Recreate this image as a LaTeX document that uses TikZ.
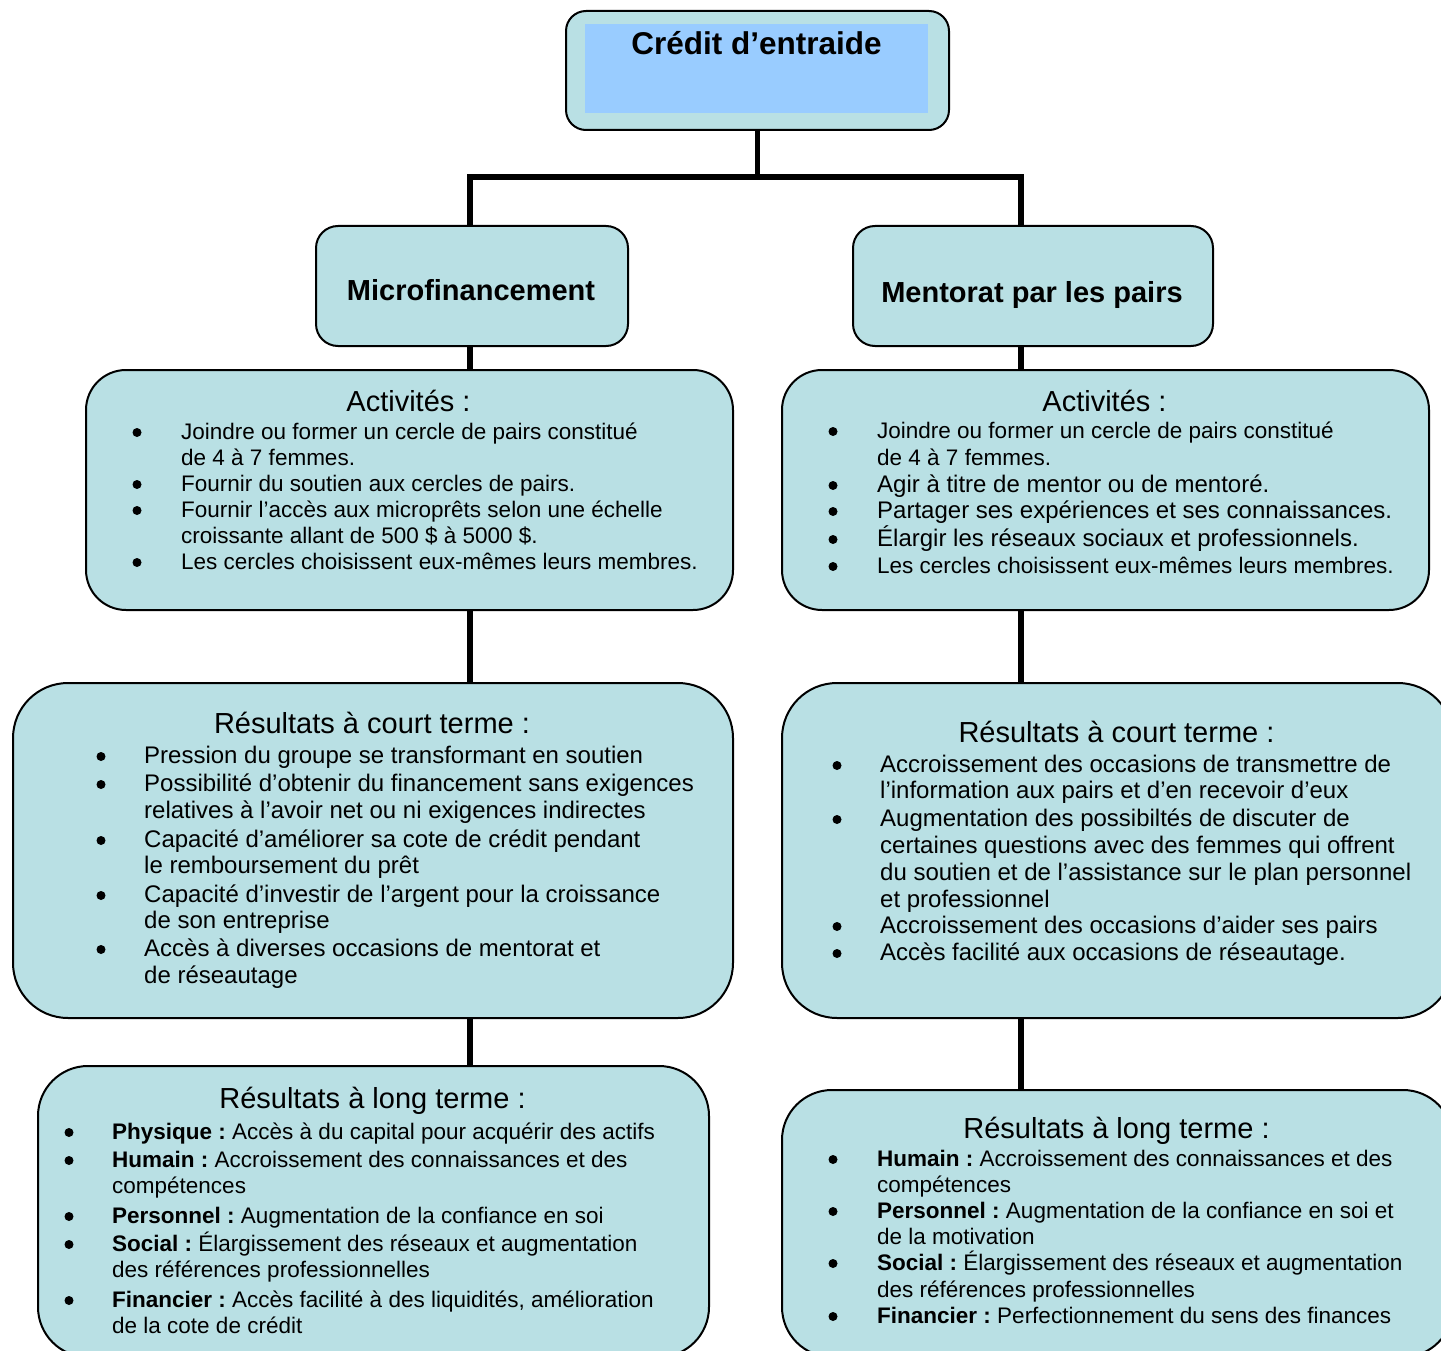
\documentclass[tikz,border=0pt]{standalone}
\usepackage{fontspec}
\setmainfont{Liberation Sans}
\definecolor{boxfill}{RGB}{185,224,228}
\definecolor{innerblue}{RGB}{153,204,255}

\begin{document}
\frenchspacing
\begin{tikzpicture}[x=1pt,y=-1pt,
  box/.style={draw=black, line width=2pt, fill=boxfill, anchor=north west, inner sep=0pt},
  link/.style={line width=5.5pt, draw=black, line join=miter},
  bodyA/.style={font=\fontsize{22.5}{26}\selectfont, anchor=base west, inner sep=0pt},
  bodyB/.style={font=\fontsize{24}{28}\selectfont, anchor=base west, inner sep=0pt},
  dot/.style={circle, fill=black, inner sep=0pt, minimum size=9pt, yshift=6.5pt},
  ttl/.style={font=\fontsize{29}{34}\selectfont, anchor=base, inner sep=0pt},
  head/.style={font=\fontsize{29}{34}\selectfont\bfseries, anchor=base, inner sep=0pt}
]
\useasboundingbox (0,0) rectangle (1441,1351);
\clip (0,0) rectangle (1441,1351);
\fill[white] (0,0) rectangle (1441,1351);

% boxes
\node[box, minimum width=383pt, minimum height=119pt, rounded corners=20pt] (top) at (565,10) {};
\node[fill=innerblue, anchor=north west, inner sep=0pt, minimum width=343pt, minimum height=89pt] (topinner) at (585,24) {};
\node[font=\fontsize{31.5}{36}\selectfont\bfseries, anchor=base, inner sep=0pt] (toptext) at (756.5,55) {Crédit d’entraide};

\node[box, minimum width=312pt, minimum height=120pt, rounded corners=22pt] (micro) at (315,225) {};
\node[head] (microtext) at (471,301) {Microfinancement};
\node[box, minimum width=360pt, minimum height=120pt, rounded corners=22pt] (mentor) at (852,225) {};
\node[head] (mentortext) at (1032,302) {Mentorat par les pairs};

\node[box, minimum width=647pt, minimum height=240pt, rounded corners=40pt] (act1) at (85,369) {};
\node[box, minimum width=647pt, minimum height=240pt, rounded corners=40pt] (act2) at (781,369) {};
\node[box, minimum width=720pt, minimum height=335pt, rounded corners=55pt] (short1) at (12,682) {};
\node[box, minimum width=671pt, minimum height=335pt, rounded corners=55pt] (short2) at (781,682) {};
\node[box, minimum width=671pt, minimum height=291pt, rounded corners=50pt] (long1) at (37,1065) {};
\node[box, minimum width=671pt, minimum height=267pt, rounded corners=50pt] (long2) at (781,1089) {};

% connectors
\coordinate (busL) at (470,177);
\coordinate (busR) at (1021,177);
\draw[link] (top.south) -- (top.south |- busL);
\draw[link] (micro.north -| busL) -- (busL) -- (busR) -- (mentor.north -| busR);
\draw[link] (micro.south -| busL) -- (act1.north -| busL);
\draw[link] (act1.south -| busL) -- (short1.north -| busL);
\draw[link] (short1.south -| busL) -- (long1.north -| busL);
\draw[link] (mentor.south -| busR) -- (act2.north -| busR);
\draw[link] (act2.south -| busR) -- (short2.north -| busR);
\draw[link] (short2.south -| busR) -- (long2.north -| busR);

% Activités, left
\node[ttl] (act1title) at (408.5,411) {Activités :};
\foreach \y [count=\i] in {439,491,517,569}
  \node[dot] (act1b\i) at (137,\y) {};
\foreach \y/\t [count=\i] in {
  439/{Joindre ou former un cercle de pairs constitué},
  465/{de 4 à 7 femmes.},
  491/{Fournir du soutien aux cercles de pairs.},
  517/{Fournir l’accès aux microprêts selon une échelle},
  543/{croissante allant de 500 \$ à 5000 \$.},
  569/{Les cercles choisissent eux-mêmes leurs membres.}}
  \node[bodyA] (act1t\i) at (181,\y) {\t};

% Activités, right
\node[ttl] (act2title) at (1104.5,411) {Activités :};
\foreach \y [count=\i] in {438,492,518,546,573}
  \node[dot] (act2b\i) at (833,\y) {};
\node[bodyA] (act2t1) at (877,438) {Joindre ou former un cercle de pairs constitué};
\node[bodyA] (act2t2) at (877,465) {de 4 à 7 femmes.};
\node[bodyB] (act2t3) at (877,492) {Agir à titre de mentor ou de mentoré.};
\node[bodyB] (act2t4) at (877,518) {Partager ses expériences et ses connaissances.};
\node[bodyB] (act2t5) at (877,546) {Élargir les réseaux sociaux et professionnels.};
\node[bodyA] (act2t6) at (877,573) {Les cercles choisissent eux-mêmes leurs membres.};

% Short-term results, left
\node[ttl] (short1title) at (372,733) {Résultats à court terme :};
\foreach \y [count=\i] in {763,791,847,902,956}
  \node[dot] (short1b\i) at (101,\y) {};
\foreach \y/\t [count=\i] in {
  763/{Pression du groupe se transformant en soutien},
  791/{Possibilité d’obtenir du financement sans exigences},
  818/{relatives à l’avoir net ou ni exigences indirectes},
  847/{Capacité d’améliorer sa cote de crédit pendant},
  873/{le remboursement du prêt},
  902/{Capacité d’investir de l’argent pour la croissance},
  928/{de son entreprise},
  956/{Accès à diverses occasions de mentorat et},
  983/{de réseautage}}
  \node[bodyB] (short1t\i) at (144,\y) {\t};

% Short-term results, right
\node[ttl] (short2title) at (1116.5,742) {Résultats à court terme :};
\foreach \y [count=\i] in {772,826,933,960}
  \node[dot] (short2b\i) at (837,\y) {};
\foreach \y/\t [count=\i] in {
  772/{Accroissement des occasions de transmettre de},
  798/{l’information aux pairs et d’en recevoir d’eux},
  826/{Augmentation des possibiltés de discuter de},
  853/{certaines questions avec des femmes qui offrent},
  880/{du soutien et de l’assistance sur le plan personnel},
  907/{et professionnel},
  933/{Accroissement des occasions d’aider ses pairs},
  960/{Accès facilité aux occasions de réseautage.}}
  \node[bodyB] (short2t\i) at (880,\y) {\t};

% Long-term results, left
\node[ttl] (long1title) at (372.5,1108) {Résultats à long terme :};
\foreach \y [count=\i] in {1139,1167,1223,1251,1307}
  \node[dot] (long1b\i) at (69,\y) {};
\foreach \y/\t [count=\i] in {
  1139/{\textbf{Physique :} Accès à du capital pour acquérir des actifs},
  1167/{\textbf{Humain :} Accroissement des connaissances et des},
  1193/{compétences},
  1223/{\textbf{Personnel :} Augmentation de la confiance en soi},
  1251/{\textbf{Social :} Élargissement des réseaux et augmentation},
  1277/{des références professionnelles},
  1307/{\textbf{Financier :} Accès facilité à des liquidités, amélioration},
  1333/{de la cote de crédit}}
  \node[bodyA] (long1t\i) at (112,\y) {\t};

% Long-term results, right
\node[ttl] (long2title) at (1116.5,1138) {Résultats à long terme :};
\foreach \y [count=\i] in {1166,1218,1270,1323}
  \node[dot] (long2b\i) at (833,\y) {};
\foreach \y/\t [count=\i] in {
  1166/{\textbf{Humain :} Accroissement des connaissances et des},
  1192/{compétences},
  1218/{\textbf{Personnel :} Augmentation de la confiance en soi et},
  1244/{de la motivation},
  1270/{\textbf{Social :} Élargissement des réseaux et augmentation},
  1297/{des références professionnelles},
  1323/{\textbf{Financier :} Perfectionnement du sens des finances}}
  \node[bodyA] (long2t\i) at (877,\y) {\t};
\end{tikzpicture}
\end{document}
